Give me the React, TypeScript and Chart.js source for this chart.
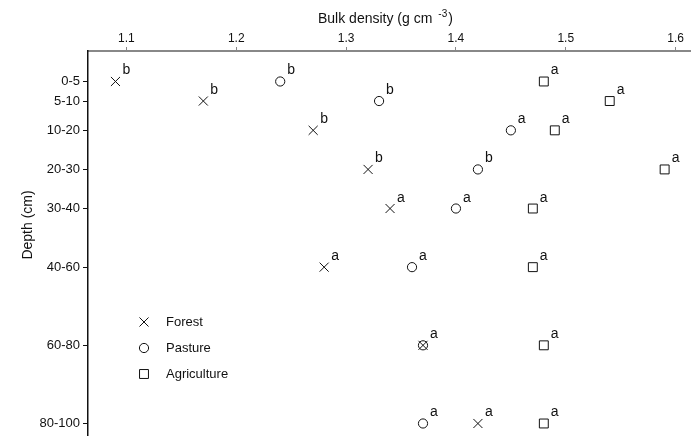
import React, { useEffect, useRef } from "react";
import { Chart, registerables } from "chart.js";

Chart.register(...registerables);

const depthLabels = ["0-5", "5-10", "10-20", "20-30", "30-40", "40-60", "60-80", "80-100"];
const depthMid = [2.5, 7.5, 15, 25, 35, 50, 70, 90];

const forest = [1.09, 1.17, 1.27, 1.32, 1.34, 1.28, 1.37, 1.42];
const pasture = [1.24, 1.33, 1.45, 1.42, 1.40, 1.36, 1.37, 1.37];
const agriculture = [1.48, 1.54, 1.49, 1.59, 1.47, 1.47, 1.48, 1.48];

const forestLetters = ["b", "b", "b", "b", "a", "a", "", "a"];
const pastureLetters = ["b", "b", "a", "b", "a", "a", "a", "a"];
const agricultureLetters = ["a", "a", "a", "a", "a", "a", "a", "a"];

const xTicks = [1.1, 1.2, 1.3, 1.4, 1.5, 1.6];

const FONT = "'Liberation Sans', Arial, sans-serif";

export default function App() {
  const ref = useRef<HTMLCanvasElement | null>(null);

  useEffect(() => {
    if (!ref.current) return;
    const letters = [forestLetters, pastureLetters, agricultureLetters];

    const overlay = {
      id: "overlay",
      afterDatasetsDraw(chart: any) {
        const ctx = chart.ctx;
        ctx.save();
        // significance letters
        ctx.fillStyle = "#111";
        ctx.font = `14px ${FONT}`;
        ctx.textAlign = "left";
        ctx.textBaseline = "alphabetic";
        chart.data.datasets.forEach((ds: any, i: number) => {
          const meta = chart.getDatasetMeta(i);
          meta.data.forEach((pt: any, j: number) => {
            const t = letters[i][j];
            if (t) ctx.fillText(t, pt.x + 7, pt.y - 7);
          });
        });
        // legend
        const lx = 144;
        const ly = [322, 348, 374];
        const names = ["Forest", "Pasture", "Agriculture"];
        chart.data.datasets.forEach((ds: any, i: number) => {
          ctx.strokeStyle = "#111";
          ctx.lineWidth = 1;
          const r = ds.pointRadius;
          ctx.beginPath();
          if (ds.pointStyle === "crossRot") {
            const h = r * Math.SQRT1_2;
            ctx.moveTo(lx - h, ly[i] - h);
            ctx.lineTo(lx + h, ly[i] + h);
            ctx.moveTo(lx - h, ly[i] + h);
            ctx.lineTo(lx + h, ly[i] - h);
          } else if (ds.pointStyle === "circle") {
            ctx.arc(lx, ly[i], r, 0, Math.PI * 2);
          } else {
            const s = r * Math.SQRT1_2;
            ctx.rect(lx - s, ly[i] - s, 2 * s, 2 * s);
          }
          ctx.stroke();
          ctx.fillStyle = "#111";
          ctx.font = `13px ${FONT}`;
          ctx.textBaseline = "middle";
          ctx.fillText(names[i], 166, ly[i]);
        });
        // x title with superscript
        ctx.textBaseline = "alphabetic";
        ctx.font = `14px ${FONT}`;
        const a = "Bulk density (g cm";
        const wa = ctx.measureText(a).width;
        const x0 = 318;
        const by = 23;
        ctx.fillText(a, x0, by);
        ctx.font = `10px ${FONT}`;
        const sup = "-3";
        const supX = x0 + wa + 6;
        ctx.fillText(sup, supX, by - 6);
        const ws = ctx.measureText(sup).width;
        ctx.font = `14px ${FONT}`;
        ctx.fillText(")", supX + ws + 1, by);
        // y title
        ctx.save();
        ctx.translate(28, 225);
        ctx.rotate(-Math.PI / 2);
        ctx.textAlign = "center";
        ctx.textBaseline = "middle";
        ctx.font = `14px ${FONT}`;
        ctx.fillText("Depth (cm)", 0, 0);
        ctx.restore();
        ctx.restore();
      },
    };

    const mk = (label: string, vals: number[], style: string, r: number) => ({
      label,
      data: vals.map((v, i) => ({ x: v, y: depthMid[i] })),
      pointStyle: style,
      pointRadius: r,
      pointHoverRadius: r,
      pointBorderWidth: 1,
      borderWidth: 1,
      pointBackgroundColor: "rgba(0,0,0,0)",
      backgroundColor: "rgba(0,0,0,0)",
      pointBorderColor: "#111",
      borderColor: "#111",
      showLine: false,
    });

    const chart = new Chart(ref.current, {
      type: "scatter",
      data: {
        datasets: [
          mk("Forest", forest, "crossRot", 6.4),
          mk("Pasture", pasture, "circle", 4.6),
          mk("Agriculture", agriculture, "rect", 6.3),
        ] as any,
      },
      options: {
        animation: false,
        responsive: false,
        layout: { padding: 0, autoPadding: false },
        clip: false,
        plugins: { legend: { display: false }, tooltip: { enabled: false } },
        scales: {
          x: {
            type: "linear",
            position: "top",
            min: 1.065,
            max: 1.614,
            afterBuildTicks: (s: any) => {
              s.ticks = xTicks.map((v) => ({ value: v }));
            },
            afterFit: (s: any) => {
              s.height = 51;
              s.paddingLeft = 0;
              s.paddingRight = 0;
            },
            grid: {
              display: true,
              drawOnChartArea: false,
              drawTicks: true,
              tickLength: 4,
              color: "#888",
              lineWidth: 1,
            },
            border: { display: true, color: "#888", width: 2 },
            ticks: {
              color: "#111",
              font: { family: FONT, size: 12 },
              padding: 1,
              maxRotation: 0,
              callback: (v: any) => String(v),
            },
          },
          y: {
            type: "linear",
            reverse: true,
            min: -5.3,
            max: 93.2,
            afterBuildTicks: (s: any) => {
              s.ticks = depthMid.map((v) => ({ value: v }));
            },
            afterFit: (s: any) => {
              s.width = 88;
              s.paddingTop = 0;
              s.paddingBottom = 0;
            },
            grid: {
              display: true,
              drawOnChartArea: false,
              drawTicks: true,
              tickLength: 5,
              color: "#111",
              lineWidth: 1,
            },
            border: { display: true, color: "#111", width: 1.5 },
            ticks: {
              color: "#111",
              font: { family: FONT, size: 13 },
              padding: 3,
              callback: (v: any) => {
                const i = depthMid.indexOf(Number(v));
                return i >= 0 ? depthLabels[i] : "";
              },
            },
          },
        },
      } as any,
      plugins: [overlay],
    });
    return () => chart.destroy();
  }, []);

  return (
    <div style={{ position: "fixed", left: 0, top: 0, width: 691, height: 436, background: "#fff" }}>
      <canvas ref={ref} width={691} height={436} style={{ width: 691, height: 436 }} />
    </div>
  );
}
